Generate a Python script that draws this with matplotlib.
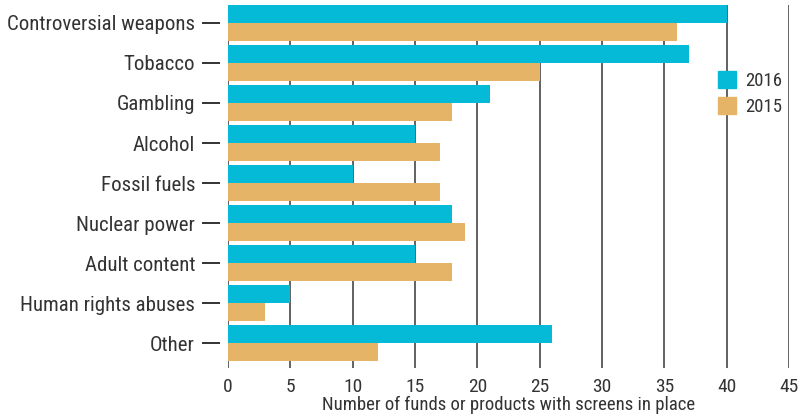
import numpy as np
import matplotlib
matplotlib.use("Agg")
import matplotlib.pyplot as plt
from matplotlib.patches import Patch

plt.rcParams['font.family'] = ['Roboto Condensed', 'Archivo Narrow',
                               'Liberation Sans Narrow', 'DejaVu Sans']

categories = ['Controversial weapons', 'Tobacco', 'Gambling', 'Alcohol',
              'Fossil fuels', 'Nuclear power', 'Adult content',
              'Human rights abuses', 'Other']
vals_2016 = [40, 37, 21, 15, 10, 18, 15, 5, 26]
vals_2015 = [36, 25, 18, 17, 17, 19, 18, 3, 12]
x_ticks = [0, 5, 10, 15, 20, 25, 30, 35, 40, 45]

c2016 = '#05BAD6'
c2015 = '#E5B466'
txt = '#333333'

fig = plt.figure(figsize=(8.05, 4.19), dpi=100)
ax = fig.add_axes([228 / 805, 1 - 368 / 419, (789 - 228) / 805, 363 / 419])

# spine position first: moving a spine resets the ticks
for s in ax.spines.values():
    s.set_visible(False)
ax.spines['left'].set_position(('outward', 6))

y = np.arange(len(categories))
h = 0.45
ax.barh(y - h / 2, vals_2016, height=h, color=c2016, zorder=3)
ax.barh(y + h / 2, vals_2015, height=h, color=c2015, zorder=3)

ax.set_xlim(0, 45)
ax.set_ylim(8.625, -0.45)
ax.set_xticks(x_ticks)
ax.set_xticklabels([str(t) for t in x_ticks], fontsize=14, color=txt)
ax.set_yticks(y)
ax.set_yticklabels(categories, fontsize=15, color=txt)

for x in x_ticks:
    ax.axvline(x, color='#555555', lw=1.3, zorder=1)

ax.tick_params(axis='y', length=12.75, width=1.4, color='#333333', pad=5)
ax.tick_params(axis='x', length=0, pad=7)

ax.set_xlabel('Number of funds or products with screens in place',
              fontsize=13.5, color=txt, labelpad=0)

handles = [Patch(color=c2016, label='2016'), Patch(color=c2015, label='2015')]
fig.legend(handles=handles, loc='upper left', bbox_to_anchor=(701 / 805, 1 - 54 / 419),
           frameon=False, fontsize=13.5, handlelength=0.95, handleheight=1.05,
           handletextpad=0.5, labelspacing=0.35, labelcolor=txt)

fig.savefig('out.png', dpi=100)
